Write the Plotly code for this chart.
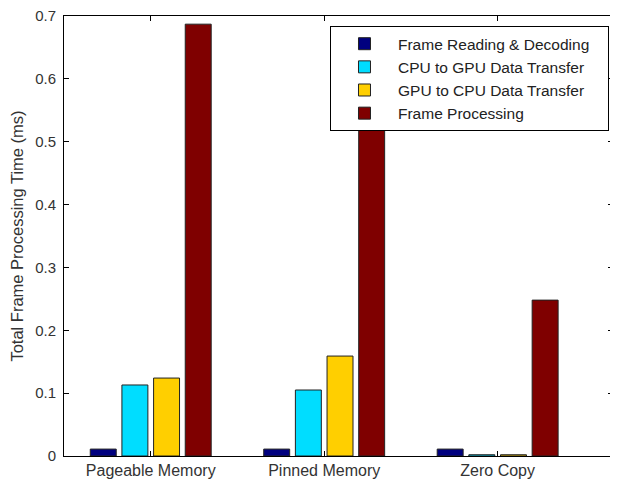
import plotly.graph_objects as go

categories = ["Pageable Memory", "Pinned Memory", "Zero Copy"]
cat_pos = [1, 2, 3]
series_names = ["Frame Reading & Decoding", "CPU to GPU Data Transfer",
                "GPU to CPU Data Transfer", "Frame Processing"]
frame_reading = [0.011, 0.011, 0.011]
cpu_to_gpu = [0.113, 0.105, 0.002]
gpu_to_cpu = [0.124, 0.159, 0.002]
frame_processing = [0.687, 0.525, 0.248]
y_ticks = [0, 0.1, 0.2, 0.3, 0.4, 0.5, 0.6, 0.7]

colors = ["#00007F", "#00DDFF", "#FFCF00", "#7F0000"]
series = [frame_reading, cpu_to_gpu, gpu_to_cpu, frame_processing]

fig = go.Figure()
for name, vals, col in zip(series_names, series, colors):
    fig.add_trace(go.Bar(
        x=cat_pos, y=vals, name=name + "\u00a0" * 3,  # trailing pad widens legend box
        marker=dict(color=col, line=dict(color="#222222", width=1)),
    ))

fam = "Liberation Sans, Arial, sans-serif"
xfont = dict(family=fam, size=16, color="#333333")
yfont = dict(family=fam, size=15, color="#333333")
tfont = dict(family=fam, size=16.5, color="#333333")

# The page body has an 8px default margin; size the figure to compensate.
fig.update_layout(
    width=610, height=471,
    margin=dict(l=56, r=5, t=8, b=23, autoexpand=False),
    paper_bgcolor="white", plot_bgcolor="white",
    barmode="group", bargap=0.27, bargroupgap=0.18,
    font=xfont,
    showlegend=True,
    legend=dict(
        x=0.4845, y=0.977, xanchor="left", yanchor="top",
        bordercolor="#000000", borderwidth=1, bgcolor="white",
        font=dict(family=fam, size=15.5, color="#222222"),
        tracegroupgap=0, itemwidth=57,
    ),
    xaxis=dict(
        range=[0.5, 3.665], tickmode="array", tickvals=cat_pos, ticktext=categories,
        ticks="inside", ticklen=5, tickcolor="#000000",
        showline=True, linecolor="#000000", linewidth=1, mirror="ticks",
        showgrid=False, zeroline=False, tickfont=xfont,
    ),
    yaxis=dict(
        range=[0, 0.7], tickmode="array", tickvals=y_ticks,
        ticktext=[("%g" % v) for v in y_ticks],
        ticks="inside", ticklen=5, tickcolor="#000000",
        showline=True, linecolor="#000000", linewidth=1, mirror="ticks",
        showgrid=False, zeroline=False, tickfont=yfont,
        ticklabeloverflow="allow", ticklabelstandoff=4,
        title=dict(text="Total Frame Processing Time (ms)", font=tfont, standoff=8),
    ),
)

fig.write_html("out.html")
